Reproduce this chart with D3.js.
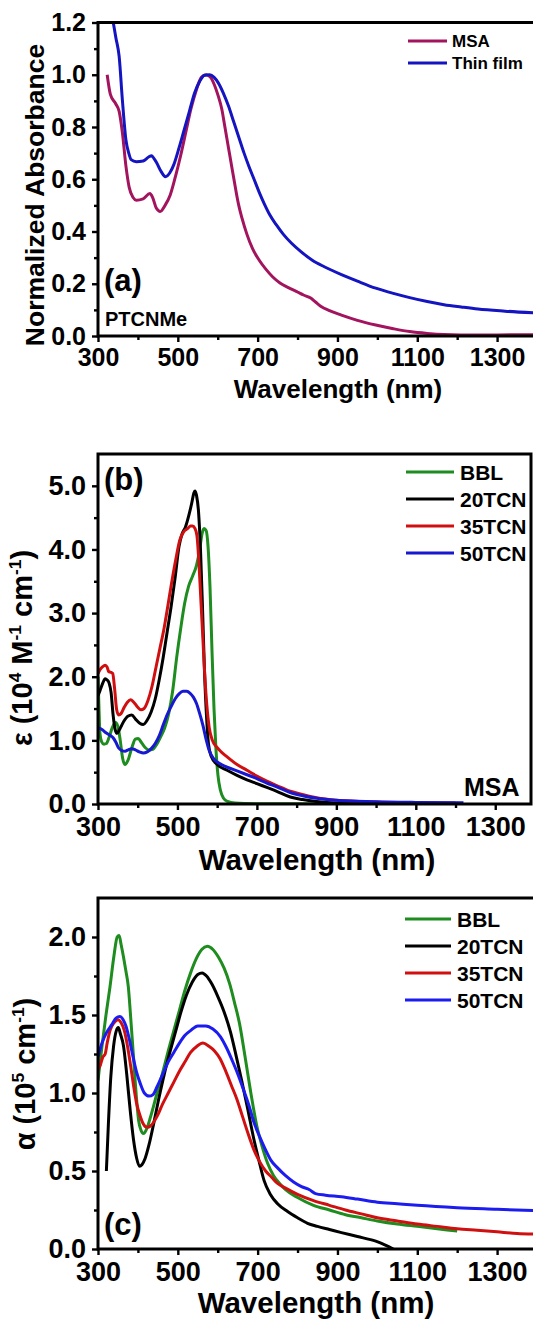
<!DOCTYPE html>
<html><head><meta charset="utf-8">
<script src="https://cdn.jsdelivr.net/npm/d3@7"></script>
<style>
html,body{margin:0;padding:0;background:#fff;}
svg text{font-family:"Liberation Sans",Arial,sans-serif;font-weight:bold;fill:#000;}
</style></head>
<body><svg id="chart" width="533" height="1323"></svg>
<script>
// ---------- tick values ----------
const xMajor = [300, 500, 700, 900, 1100, 1300];
const xMinor = [400, 600, 800, 1000, 1200, 1400];
const aYMajor = [0, 0.2, 0.4, 0.6, 0.8, 1.0, 1.2];
const aYMinor = [0.1, 0.3, 0.5, 0.7, 0.9, 1.1];
const bYMajor = [0, 1, 2, 3, 4, 5];
const bYMinor = [0.5, 1.5, 2.5, 3.5, 4.5];
const cYMajor = [0, 0.5, 1.0, 1.5, 2.0];
const cYMinor = [0.25, 0.75, 1.25, 1.75];

// ---------- panel (a) data: [wavelength nm, normalized absorbance] ----------
const aNames = ["MSA", "Thin film"];
const aMSA = [[323,1.0],[331,0.925],[344,0.89],[353,0.86],[361,0.78],[370,0.65],[378,0.57],[388,0.53],[396,0.52],[413,0.525],[430,0.545],[437,0.53],[446,0.49],[456,0.477],[468,0.5],[481,0.54],[494,0.61],[507,0.69],[520,0.78],[533,0.87],[546,0.94],[559,0.99],[571,1.0],[582,0.99],[592,0.96],[601,0.92],[610,0.87],[618,0.8],[627,0.72],[636,0.64],[644,0.57],[652,0.505],[661,0.45],[673,0.39],[687,0.335],[704,0.29],[721,0.255],[738,0.226],[756,0.203],[777,0.185],[798,0.17],[815,0.157],[833,0.145],[845,0.13],[858,0.114],[880,0.097],[910,0.08],[950,0.06],[996,0.042],[1040,0.028],[1081,0.017],[1125,0.01],[1167,0.006],[1250,0.004],[1400,0.005]];
const aFilm = [[336,1.22],[345,1.14],[353,1.07],[361,0.905],[370,0.75],[377,0.7],[383,0.675],[396,0.667],[413,0.67],[427,0.685],[434,0.69],[440,0.68],[447,0.663],[458,0.63],[469,0.61],[480,0.625],[490,0.656],[503,0.72],[516,0.79],[529,0.86],[542,0.93],[555,0.975],[567,0.998],[580,1.0],[591,0.99],[601,0.97],[614,0.93],[627,0.88],[640,0.82],[653,0.76],[666,0.7],[678,0.65],[691,0.6],[704,0.55],[717,0.505],[730,0.465],[747,0.425],[764,0.39],[785,0.355],[807,0.325],[837,0.29],[867,0.265],[910,0.235],[950,0.21],[996,0.183],[1040,0.163],[1081,0.147],[1125,0.132],[1167,0.12],[1210,0.111],[1252,0.103],[1320,0.095],[1400,0.088]];

// ---------- panel (b) data: [nm, epsilon (10^4 M^-1 cm^-1)] ----------
const bNames = ["BBL", "20TCN", "35TCN", "50TCN"];
const bBBL = [[300,2.0],[302,1.6],[305,1.1],[309,0.98],[315,0.94],[321,0.95],[328,1.05],[336,1.2],[344,1.28],[350,1.22],[356,1.0],[362,0.72],[368,0.62],[375,0.68],[385,0.88],[394,1.02],[401,1.03],[410,0.96],[420,0.88],[428,0.85],[438,0.86],[448,0.94],[458,1.06],[468,1.2],[478,1.42],[488,1.78],[498,2.3],[508,2.75],[518,3.15],[528,3.42],[538,3.58],[548,3.75],[556,4.0],[562,4.25],[567,4.33],[572,4.3],[577,4.05],[582,3.4],[587,2.4],[592,1.5],[597,0.85],[602,0.45],[608,0.22],[616,0.09],[626,0.04],[645,0.015],[700,0.005],[800,0.002],[1000,0.001]];
const b20 = [[300,1.7],[305,1.78],[312,1.9],[318,1.97],[323,1.95],[328,1.9],[333,1.75],[338,1.4],[344,1.15],[348,1.11],[355,1.18],[365,1.3],[375,1.38],[385,1.4],[395,1.33],[405,1.27],[414,1.25],[424,1.32],[434,1.45],[444,1.65],[454,1.95],[464,2.3],[474,2.7],[484,3.1],[494,3.55],[504,4.05],[512,4.25],[520,4.35],[528,4.52],[536,4.73],[541,4.88],[544,4.92],[548,4.85],[553,4.6],[558,4.0],[563,3.1],[568,2.1],[573,1.4],[578,0.95],[585,0.75],[600,0.62],[625,0.53],[650,0.45],[675,0.38],[700,0.32],[725,0.26],[750,0.2],[784,0.11],[815,0.07],[850,0.04],[900,0.015],[950,0.008],[1000,0.005],[1100,0.003]];
const b35 = [[300,2.05],[305,2.11],[312,2.16],[318,2.18],[323,2.15],[327,2.08],[332,2.07],[337,2.05],[342,1.8],[347,1.48],[352,1.4],[358,1.42],[366,1.52],[374,1.6],[382,1.64],[390,1.6],[400,1.52],[408,1.48],[416,1.5],[426,1.63],[436,1.85],[446,2.15],[456,2.45],[466,2.75],[476,3.12],[486,3.5],[496,3.85],[506,4.15],[516,4.28],[526,4.33],[533,4.37],[538,4.37],[544,4.33],[549,4.22],[554,3.8],[559,3.2],[564,2.6],[569,2.0],[574,1.55],[580,1.2],[588,1.0],[598,0.9],[610,0.82],[625,0.74],[650,0.62],[675,0.53],[700,0.44],[725,0.36],[750,0.29],[784,0.2],[815,0.15],[850,0.1],[900,0.06],[950,0.045],[1000,0.03],[1100,0.02],[1200,0.015]];
const b50 = [[300,1.2],[310,1.17],[320,1.12],[330,1.08],[338,1.04],[345,0.97],[352,0.88],[360,0.84],[368,0.83],[376,0.85],[385,0.87],[394,0.85],[404,0.82],[414,0.8],[424,0.82],[434,0.87],[444,0.95],[454,1.07],[464,1.24],[474,1.4],[484,1.53],[494,1.65],[504,1.73],[514,1.77],[523,1.77],[532,1.74],[540,1.68],[548,1.58],[556,1.42],[564,1.24],[572,1.02],[580,0.84],[590,0.72],[600,0.66],[625,0.58],[650,0.52],[675,0.46],[700,0.4],[725,0.33],[750,0.27],[784,0.18],[815,0.13],[850,0.09],[900,0.06],[950,0.045],[1000,0.035],[1100,0.025],[1220,0.02]];

// ---------- panel (c) data: [nm, alpha (10^5 cm^-1)] ----------
const cNames = ["BBL", "20TCN", "35TCN", "50TCN"];
const cBBL = [[300,1.08],[310,1.3],[320,1.5],[330,1.68],[340,1.88],[348,2.0],[353,2.01],[358,1.95],[364,1.87],[370,1.78],[376,1.68],[382,1.48],[389,1.23],[396,0.98],[402,0.82],[408,0.76],[414,0.74],[422,0.77],[432,0.85],[448,1.0],[462,1.13],[476,1.27],[490,1.4],[504,1.53],[518,1.66],[532,1.77],[546,1.86],[560,1.92],[574,1.94],[588,1.92],[602,1.87],[616,1.8],[630,1.7],[642,1.58],[655,1.44],[668,1.24],[683,1.0],[697,0.8],[711,0.66],[725,0.55],[740,0.47],[755,0.42],[770,0.38],[800,0.33],[840,0.28],[880,0.25],[920,0.22],[960,0.2],[1000,0.18],[1050,0.16],[1100,0.145],[1150,0.13],[1200,0.115]];
const c20 = [[321,0.5],[326,0.8],[332,1.1],[339,1.3],[346,1.4],[351,1.42],[356,1.38],[364,1.3],[372,1.12],[381,0.88],[389,0.7],[397,0.58],[404,0.53],[410,0.54],[418,0.58],[428,0.67],[440,0.81],[452,0.96],[466,1.12],[480,1.26],[494,1.39],[508,1.52],[522,1.63],[536,1.71],[550,1.76],[561,1.77],[572,1.75],[585,1.7],[600,1.62],[616,1.52],[632,1.39],[646,1.24],[660,1.08],[675,0.9],[690,0.71],[703,0.57],[716,0.44],[732,0.35],[750,0.29],[775,0.24],[800,0.2],[825,0.165],[850,0.145],[880,0.125],[910,0.105],[950,0.08],[996,0.05],[1020,0.025],[1040,0.0]];
const c35 = [[300,1.15],[306,1.18],[312,1.23],[318,1.25],[323,1.32],[330,1.4],[340,1.45],[350,1.47],[358,1.45],[366,1.4],[374,1.3],[382,1.17],[389,1.05],[397,0.93],[406,0.85],[414,0.8],[423,0.78],[432,0.79],[448,0.85],[462,0.93],[476,1.0],[490,1.07],[504,1.14],[518,1.2],[532,1.26],[548,1.3],[563,1.32],[578,1.3],[592,1.27],[606,1.22],[620,1.14],[634,1.05],[648,0.96],[662,0.85],[676,0.74],[690,0.64],[705,0.56],[720,0.5],[735,0.46],[750,0.42],[770,0.39],[800,0.35],[840,0.31],[880,0.28],[920,0.25],[960,0.225],[1000,0.2],[1050,0.18],[1100,0.16],[1150,0.145],[1200,0.13],[1250,0.12],[1300,0.11],[1350,0.1],[1400,0.095]];
const c50 = [[300,1.23],[310,1.32],[322,1.39],[335,1.44],[345,1.48],[355,1.49],[363,1.47],[370,1.43],[378,1.35],[388,1.23],[397,1.13],[406,1.06],[416,1.0],[428,0.98],[438,0.99],[448,1.04],[462,1.12],[476,1.2],[490,1.26],[504,1.32],[518,1.37],[532,1.4],[550,1.43],[570,1.43],[588,1.41],[607,1.36],[622,1.29],[636,1.21],[649,1.13],[662,1.04],[677,0.93],[691,0.81],[705,0.72],[719,0.64],[733,0.57],[750,0.52],[770,0.47],[790,0.43],[810,0.4],[830,0.38],[845,0.355],[870,0.345],[910,0.335],[950,0.32],[1000,0.3],[1050,0.29],[1100,0.28],[1200,0.265],[1300,0.255],[1400,0.245]];

const svg = d3.select("#chart");

function drawPanel(cfg) {
  const g = svg.append("g");
  const x = d3.scaleLinear().domain(cfg.xDomain).range([cfg.left, cfg.right]);
  const y = d3.scaleLinear().domain(cfg.yDomain).range([cfg.bottom, cfg.top]);
  const clipId = "clip" + cfg.id;
  svg.append("defs").append("clipPath").attr("id", clipId)
    .append("rect").attr("x", cfg.left).attr("y", cfg.top)
    .attr("width", cfg.right - cfg.left).attr("height", cfg.bottom - cfg.top);

  // data lines
  const line = d3.line().x(d => x(d[0])).y(d => y(d[1])).curve(d3.curveMonotoneX);
  const lg = g.append("g").attr("clip-path", `url(#${clipId})`);
  cfg.series.forEach(s => {
    lg.append("path").datum(s.data).attr("d", line)
      .attr("fill", "none").attr("stroke", s.color).attr("stroke-width", 3)
      .attr("stroke-linejoin", "round").attr("stroke-linecap", "butt");
  });

  // axes
  const xAxis = d3.axisBottom(x).tickValues(xMajor).tickSize(6).tickPadding(cfg.xPad).tickFormat(d3.format("d"));
  const xAxisMinor = d3.axisBottom(x).tickValues(xMinor).tickSize(4).tickFormat("");
  const yAxis = d3.axisLeft(y).tickValues(cfg.yMajor).tickSize(6).tickPadding(cfg.yPad).tickFormat(d3.format(".1f"));
  const yAxisMinor = d3.axisLeft(y).tickValues(cfg.yMinor).tickSize(4).tickFormat("");

  [xAxis, xAxisMinor].forEach(ax => {
    const a = g.append("g").attr("transform", `translate(0,${cfg.bottom})`).call(ax);
    a.select(".domain").remove();
    a.selectAll(".tick line").attr("stroke", "#000").attr("stroke-width", 2.4);
    a.selectAll(".tick text").attr("font-size", cfg.tickFont).attr("fill", "#000")
      .attr("font-family", '"Liberation Sans",Arial,sans-serif').attr("font-weight", "bold");
  });
  [yAxis, yAxisMinor].forEach(ax => {
    const a = g.append("g").attr("transform", `translate(${cfg.left},0)`).call(ax);
    a.select(".domain").remove();
    a.selectAll(".tick line").attr("stroke", "#000").attr("stroke-width", 2.4);
    a.selectAll(".tick text").attr("font-size", cfg.ytickFont).attr("fill", "#000")
      .attr("font-family", '"Liberation Sans",Arial,sans-serif').attr("font-weight", "bold");
  });

  // frame
  g.append("rect").attr("x", cfg.left).attr("y", cfg.top)
    .attr("width", cfg.right - cfg.left).attr("height", cfg.bottom - cfg.top)
    .attr("fill", "none").attr("stroke", "#000").attr("stroke-width", 3);

  // x title
  g.append("text").attr("x", cfg.xTitleX).attr("y", cfg.xTitleY)
    .attr("text-anchor", "middle").attr("font-size", cfg.titleFont).text("Wavelength (nm)");

  // y title
  const yt = g.append("text").attr("transform", `translate(${cfg.yTitleX},${cfg.yTitleY}) rotate(-90)`)
    .attr("text-anchor", "middle").attr("font-size", cfg.yTitleFont);
  cfg.yTitle.forEach(p => {
    const t = yt.append("tspan").text(p.t);
    if (p.sup) t.attr("font-size", cfg.yTitleFont * 0.6).attr("dy", -cfg.yTitleFont * 0.38);
    if (p.down) t.attr("dy", cfg.yTitleFont * 0.38);
  });

  // legend
  cfg.series.forEach((s, i) => {
    const ly = cfg.legY + i * cfg.legStep;
    g.append("line").attr("x1", cfg.legX1).attr("x2", cfg.legX2).attr("y1", ly).attr("y2", ly)
      .attr("stroke", s.color).attr("stroke-width", 3.2);
    g.append("text").attr("x", cfg.legTX).attr("y", ly + cfg.legFont * 0.36)
      .attr("font-size", cfg.legFont).text(s.name);
  });

  // annotations
  cfg.notes.forEach(n => {
    g.append("text").attr("x", n.x).attr("y", n.y).attr("font-size", n.size).text(n.t);
  });
}

drawPanel({
  id: "a", left: 98, right: 537, top: 22.5, bottom: 336,
  xDomain: [300, 1400], yDomain: [0, 1.2],
  yMajor: aYMajor, yMinor: aYMinor, tickFont: 25, ytickFont: 25, xPad: 6, yPad: 6,
  series: [{name: aNames[0], data: aMSA, color: "#a3145e"}, {name: aNames[1], data: aFilm, color: "#1414c0"}],
  titleFont: 26, xTitleX: 338, xTitleY: 398,
  yTitle: [{t: "Normalized Absorbance"}], yTitleFont: 26.5, yTitleX: 44, yTitleY: 195,
  legX1: 408, legX2: 447, legTX: 452, legY: 41, legStep: 22, legFont: 17,
  notes: [{t: "(a)", x: 104, y: 291, size: 31}, {t: "PTCNMe", x: 105, y: 326, size: 20}]
});

drawPanel({
  id: "b", left: 98, right: 531, top: 454, bottom: 804,
  xDomain: [300, 1390], yDomain: [0, 5.5],
  yMajor: bYMajor, yMinor: bYMinor, tickFont: 27, ytickFont: 27, xPad: 7, yPad: 6,
  series: [{name: bNames[0], data: bBBL, color: "#1e8c1e"}, {name: bNames[1], data: b20, color: "#000000"},
           {name: bNames[2], data: b35, color: "#d01010"}, {name: bNames[3], data: b50, color: "#1818d0"}],
  titleFont: 29.5, xTitleX: 317, xTitleY: 870,
  yTitle: [{t: "ε (10"}, {t: "4", sup: true}, {t: " M", down: true}, {t: "-1", sup: true}, {t: " cm", down: true}, {t: "-1", sup: true}, {t: ")", down: true}],
  yTitleFont: 29, yTitleX: 32, yTitleY: 648,
  legX1: 406, legX2: 454, legTX: 460, legY: 472, legStep: 27, legFont: 21,
  notes: [{t: "(b)", x: 104, y: 490, size: 31}, {t: "MSA", x: 464, y: 796, size: 25}]
});

drawPanel({
  id: "c", left: 98, right: 537, top: 898, bottom: 1249,
  xDomain: [300, 1400], yDomain: [0, 2.25],
  yMajor: cYMajor, yMinor: cYMinor, tickFont: 27, ytickFont: 27, xPad: 7, yPad: 6,
  series: [{name: cNames[0], data: cBBL, color: "#1e8c1e"}, {name: cNames[1], data: c20, color: "#000000"},
           {name: cNames[2], data: c35, color: "#d01010"}, {name: cNames[3], data: c50, color: "#1c1cf0"}],
  titleFont: 29.5, xTitleX: 316, xTitleY: 1313,
  yTitle: [{t: "α (10"}, {t: "5", sup: true}, {t: " cm", down: true}, {t: "-1", sup: true}, {t: ")", down: true}],
  yTitleFont: 29, yTitleX: 35, yTitleY: 1074,
  legX1: 405, legX2: 451, legTX: 457, legY: 919, legStep: 27, legFont: 21,
  notes: [{t: "(c)", x: 104, y: 1235, size: 31}]
});
</script></body></html>
